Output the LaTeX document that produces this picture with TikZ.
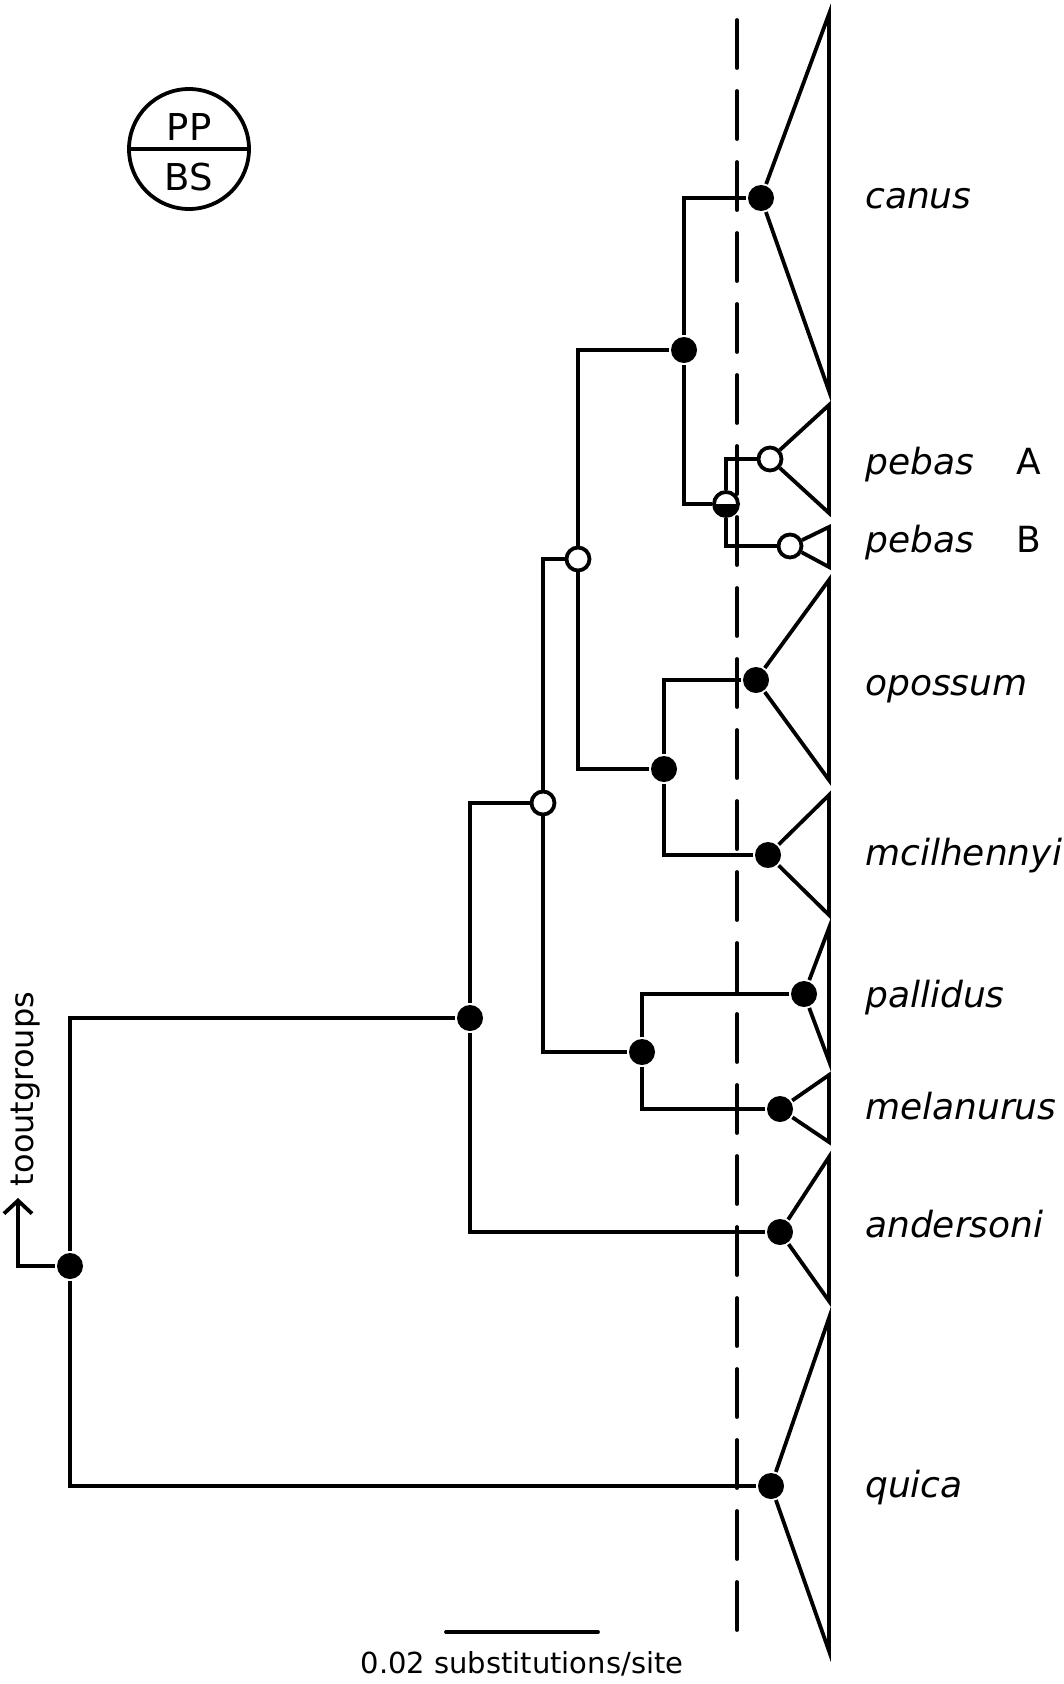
\documentclass[tikz,border=0pt]{standalone}
\usepackage{fontspec}
\setmainfont{DejaVu Sans}
\usetikzlibrary{arrows.meta}

\begin{document}
\begin{tikzpicture}[x=1pt,y=-1pt,line width=3.8pt,
  pfull/.style={circle,fill=black,minimum size=26pt,inner sep=0pt},
  popen/.style={circle,draw,fill=white,minimum size=23pt,inner sep=0pt},
  phalf/.style={popen,minimum size=24pt,path picture={\fill[black] (path picture bounding box.west) rectangle (path picture bounding box.south east);}},
  taxon/.style={anchor=base west,font=\fontsize{36}{43}\selectfont\itshape},
  clade/.style={anchor=base west,font=\fontsize{36}{43}\selectfont}
]
\useasboundingbox (0,0) rectangle (1063,1684);

% legend
\node[circle,draw,minimum size=120pt,inner sep=0pt] (legend) at (189,149) {};
\draw (legend.west) -- (legend.east);
\node[anchor=base,font=\fontsize{37}{44}\selectfont] (pp) at (189,140) {PP};
\node[anchor=base,font=\fontsize{37}{44}\selectfont] (bs) at (189,190) {BS};

% dashed line
\draw[dash pattern=on 48pt off 23pt,line cap=round] (737,20) -- (737,1645);

% internal nodes
\node[pfull] (root) at (70,1266) {};
\node[pfull] (anc) at (470,1018) {};
\node[popen] (nB) at (543,803) {};
\node[pfull] (nC) at (642,1052) {};
\node[popen] (nD) at (578,559) {};
\node[pfull] (nE) at (664,769) {};
\node[pfull] (nF) at (684,350) {};
\node[phalf] (nG) at (726,504) {};

% tips
\node[pfull] (canus) at (761,198) {};
\node[popen] (pebA) at (770,459) {};
\node[popen] (pebB) at (790,546) {};
\node[pfull] (opossum) at (756,680) {};
\node[pfull] (mcilhennyi) at (768,855) {};
\node[pfull] (pallidus) at (804,994) {};
\node[pfull] (melanurus) at (780,1109) {};
\node[pfull] (andersoni) at (780,1232) {};
\node[pfull] (quica) at (771,1486) {};

% branches
\draw (root) |- (anc);
\draw (root) |- (quica);
\draw (anc) |- (nB);
\draw (anc) |- (andersoni);
\draw (nB) |- (nD);
\draw (nB) |- (nC);
\draw (nC) |- (pallidus);
\draw (nC) |- (melanurus);
\draw (nD) |- (nF);
\draw (nD) |- (nE);
\draw (nE) |- (opossum);
\draw (nE) |- (mcilhennyi);
\draw (nF) |- (canus);
\draw (nF) |- (nG);
\draw (nG) |- (pebA);
\draw (nG) |- (pebB);

% collapsed clades
\foreach \n/\top/\bot in {canus/14/391,pebA/405/513,pebB/527/567,opossum/580/780,
  mcilhennyi/795/915,pallidus/928/1061,melanurus/1075/1142,andersoni/1157/1301,quica/1318/1651}
  \draw[line join=miter] (\n) -- (829,\top) -- (829,\bot) -- (\n);

% labels
\node[taxon] (lcanus) at (860,208) {canus};
\node[taxon] (lpebA) at (860,474) {pebas};
\node[clade] (cA) at (1011,474) {A};
\node[taxon] (lpebB) at (860,552) {pebas};
\node[clade] (cB) at (1011,552) {B};
\node[taxon] (lopossum) at (860,695) {opossum};
\node[taxon] (lmcilhennyi) at (860,865) {mcilhennyi};
\node[taxon] (lpallidus) at (860,1007) {pallidus};
\node[taxon] (lmelanurus) at (860,1119) {melanurus};
\node[taxon] (landersoni) at (860,1237) {andersoni};
\node[taxon] (lquica) at (860,1497) {quica};

% outgroup
\coordinate (out) at (18,1198);
\draw[-{Straight Barb[length=13pt,width=28pt]}] (root) -| (out);
\node[rotate=90,font=\fontsize{32}{38}\selectfont] (lout) at (26,1089) {tooutgroups};

% scale bar
\draw[line cap=round] (446,1632) -- (598,1632);
\node[font=\fontsize{29}{35}\selectfont] (lscale) at (522,1664) {0.02 substitutions/site};
\end{tikzpicture}
\end{document}
